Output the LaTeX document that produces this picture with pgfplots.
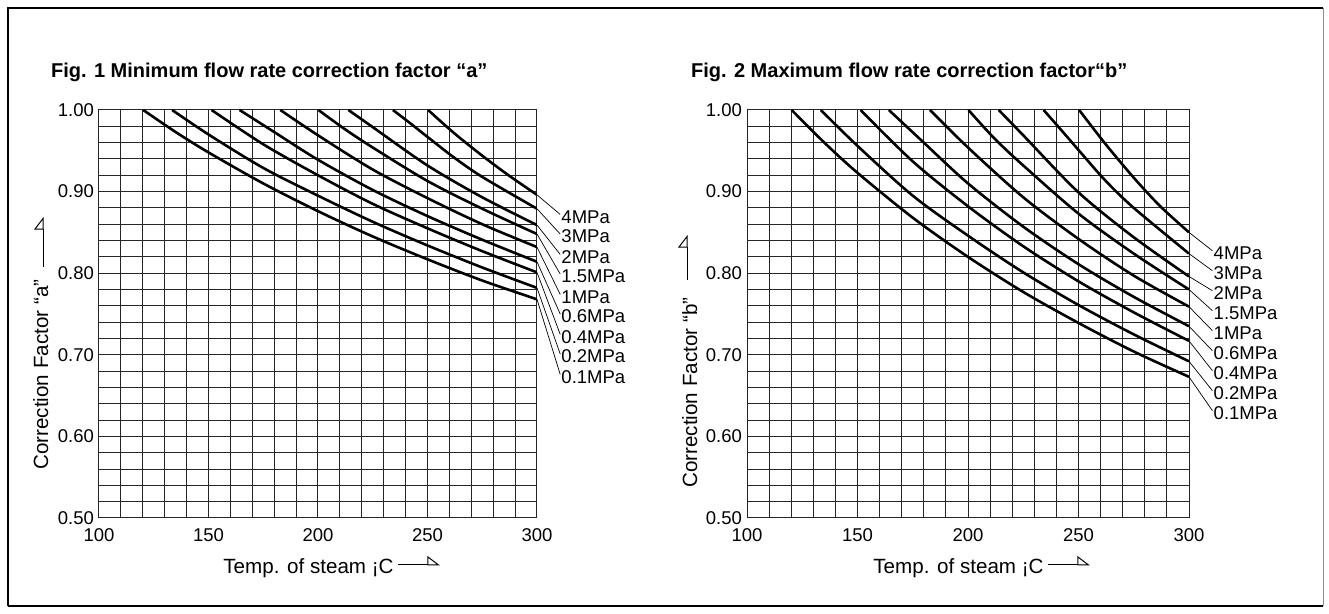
\documentclass[border=0pt]{standalone}
\usepackage{fontspec}
\setmainfont{Liberation Sans}
\usepackage{pgfplots}
\pgfplotsset{compat=1.18}
\usetikzlibrary{arrows.meta}

\pgfplotsset{
  factorchart/.style={
    scale only axis, height=204pt,
    anchor=south west,
    xmin=100, xmax=300, ymin=0.5, ymax=1.0,
    xtick={100,150,200,250,300},
    ytick={0.5,0.6,0.7,0.8,0.9,1.0},
    minor x tick num=4, minor y tick num=4,
    grid=both,
    grid style={black!85, line width=0.5pt},
    major grid style={black!85, line width=0.5pt},
    axis line style={black!85, line width=0.5pt},
    tick style={draw=none},
    /pgf/number format/assume math mode=true,
    ticklabel style={font=\fontsize{9.25}{11}\selectfont},
    yticklabel style={xshift=1pt, /pgf/number format/.cd, fixed, fixed zerofill, precision=2},
    xticklabel style={yshift=-2pt},
    clip mode=individual,
  },
  curve/.style={black, line width=1.3pt, smooth, mark=none},
}
\tikzset{
  leader/.style={black, line width=0.35pt},
  plabel/.style={anchor=west, inner sep=0pt, font=\fontsize{9.25}{11}\selectfont},
  bigarrow/.style={line width=0.5pt, -{Triangle[open,left,length=6pt,width=9pt]}},
}

\begin{document}
\begin{tikzpicture}
\useasboundingbox (0,0) rectangle (664.5pt,307pt);

% frame
\draw[black, line width=1pt] (4pt,4pt) -- (4pt,303pt) -- (661.5pt,303pt);
\draw[black!45, line width=0.5pt] (661.5pt,303pt) -- (661.5pt,4pt);
\draw[black, line width=0.6pt] (4pt,4pt) -- (661.5pt,4pt);

% titles
\node[anchor=base west, inner sep=0pt, font=\bfseries\fontsize{10}{12}\selectfont]
  at (25.35pt,268pt) {Fig. 1 Minimum flow rate correction factor “a”};
\node[anchor=base west, inner sep=0pt, font=\bfseries\fontsize{10}{12}\selectfont]
  at (345.35pt,268pt) {Fig. 2 Maximum flow rate correction factor“b”};

% ---------- Fig. 1 ----------
\begin{axis}[factorchart, width=219pt, at={(49.5pt,48pt)}]
\addplot[curve] coordinates {(120.2,1.000) (135,0.973) (150,0.948) (175,0.910) (200,0.876) (225,0.845) (250,0.817) (275,0.791) (300,0.768)};
\addplot[curve] coordinates {(133.4,1.000) (150,0.970) (175,0.929) (200,0.895) (225,0.863) (250,0.834) (275,0.807) (300,0.782)};
\addplot[curve] coordinates {(151.4,1.000) (175,0.958) (200,0.920) (225,0.885) (250,0.855) (275,0.827) (300,0.801)};
\addplot[curve] coordinates {(164.2,1.000) (180,0.973) (200,0.939) (225,0.902) (250,0.870) (275,0.841) (300,0.814)};
\addplot[curve] coordinates {(182.8,1.000) (200,0.969) (225,0.927) (250,0.892) (275,0.860) (300,0.832)};
\addplot[curve] coordinates {(200.2,1.000) (212,0.977) (225,0.954) (250,0.913) (275,0.879) (300,0.848)};
\addplot[curve] coordinates {(213.9,1.000) (225,0.979) (250,0.932) (275,0.893) (300,0.859)};
\addplot[curve] coordinates {(234.2,1.000) (242,0.984) (250,0.967) (262,0.942) (275,0.918) (300,0.879)};
\addplot[curve] coordinates {(250.3,1.000) (262,0.972) (275,0.944) (287,0.920) (300,0.896)};

\draw[leader] (axis cs:300,0.896) -- (axis cs:310.6,0.872);
\draw[leader] (axis cs:300,0.879) -- (axis cs:310.6,0.848);
\draw[leader] (axis cs:300,0.859) -- (axis cs:310.6,0.823);
\draw[leader] (axis cs:300,0.848) -- (axis cs:310.6,0.799);
\draw[leader] (axis cs:300,0.832) -- (axis cs:310.6,0.774);
\draw[leader] (axis cs:300,0.814) -- (axis cs:310.6,0.750);
\draw[leader] (axis cs:300,0.801) -- (axis cs:310.6,0.725);
\draw[leader] (axis cs:300,0.782) -- (axis cs:310.6,0.701);
\draw[leader] (axis cs:300,0.768) -- (axis cs:310.6,0.676);
\node[plabel] at (axis cs:311,0.869) {4MPa};
\node[plabel] at (axis cs:311,0.845) {3MPa};
\node[plabel] at (axis cs:311,0.820) {2MPa};
\node[plabel] at (axis cs:311,0.796) {1.5MPa};
\node[plabel] at (axis cs:311,0.771) {1MPa};
\node[plabel] at (axis cs:311,0.747) {0.6MPa};
\node[plabel] at (axis cs:311,0.722) {0.4MPa};
\node[plabel] at (axis cs:311,0.698) {0.2MPa};
\node[plabel] at (axis cs:311,0.673) {0.1MPa};
\end{axis}

% ---------- Fig. 2 ----------
\begin{axis}[factorchart, width=221pt, at={(373.5pt,48pt)}]
\addplot[curve] coordinates {(120.2,1.000) (135,0.960) (150,0.923) (175,0.868) (200,0.820) (225,0.777) (250,0.739) (275,0.704) (300,0.673)};
\addplot[curve] coordinates {(133.4,1.000) (150,0.956) (175,0.895) (200,0.846) (225,0.801) (250,0.761) (275,0.725) (300,0.692)};
\addplot[curve] coordinates {(151.4,1.000) (175,0.937) (200,0.882) (225,0.833) (250,0.790) (275,0.752) (300,0.717)};
\addplot[curve] coordinates {(164.2,1.000) (180,0.960) (200,0.910) (225,0.857) (250,0.811) (275,0.771) (300,0.735)};
\addplot[curve] coordinates {(182.8,1.000) (200,0.954) (225,0.893) (250,0.842) (275,0.797) (300,0.759)};
\addplot[curve] coordinates {(200.2,1.000) (212,0.965) (225,0.932) (250,0.873) (275,0.824) (300,0.780)};
\addplot[curve] coordinates {(213.9,1.000) (225,0.969) (250,0.899) (275,0.844) (300,0.796)};
\addplot[curve] coordinates {(234.2,1.000) (242,0.976) (250,0.951) (262,0.914) (275,0.880) (300,0.824)};
\addplot[curve] coordinates {(250.3,1.000) (262,0.959) (275,0.917) (287,0.882) (300,0.850)};

\draw[leader] (axis cs:300,0.850) -- (axis cs:310.6,0.8275);
\draw[leader] (axis cs:300,0.824) -- (axis cs:310.6,0.803);
\draw[leader] (axis cs:300,0.796) -- (axis cs:310.6,0.7785);
\draw[leader] (axis cs:300,0.780) -- (axis cs:310.6,0.754);
\draw[leader] (axis cs:300,0.759) -- (axis cs:310.6,0.7295);
\draw[leader] (axis cs:300,0.735) -- (axis cs:310.6,0.705);
\draw[leader] (axis cs:300,0.717) -- (axis cs:310.6,0.6805);
\draw[leader] (axis cs:300,0.692) -- (axis cs:310.6,0.656);
\draw[leader] (axis cs:300,0.673) -- (axis cs:310.6,0.6315);
\node[plabel] at (axis cs:311,0.8245) {4MPa};
\node[plabel] at (axis cs:311,0.800) {3MPa};
\node[plabel] at (axis cs:311,0.7755) {2MPa};
\node[plabel] at (axis cs:311,0.751) {1.5MPa};
\node[plabel] at (axis cs:311,0.7265) {1MPa};
\node[plabel] at (axis cs:311,0.702) {0.6MPa};
\node[plabel] at (axis cs:311,0.6775) {0.4MPa};
\node[plabel] at (axis cs:311,0.653) {0.2MPa};
\node[plabel] at (axis cs:311,0.6285) {0.1MPa};
\end{axis}

% axis titles with arrows
\node[anchor=base west, inner sep=0pt, rotate=90, font=\fontsize{10.3}{12}\selectfont]
  at (24pt,72pt) {Correction Factor “a”};
\draw[bigarrow] (21.5pt,173.5pt) -- (21.5pt,198.5pt);
\node[anchor=base west, inner sep=0pt, rotate=90, font=\fontsize{10.3}{12}\selectfont]
  at (348.5pt,63pt) {Correction Factor “b”};
\draw[bigarrow] (343.5pt,167pt) -- (343.5pt,189.5pt);

\node[anchor=base west, inner sep=0pt, font=\fontsize{10.3}{12}\selectfont]
  at (111.5pt,20pt) {Temp. of steam ¡C};
\draw[bigarrow] (199pt,24.5pt) -- (220pt,24.5pt);
\node[anchor=base west, inner sep=0pt, font=\fontsize{10.3}{12}\selectfont]
  at (436.5pt,20pt) {Temp. of steam ¡C};
\draw[bigarrow] (524pt,24.5pt) -- (545pt,24.5pt);
\end{tikzpicture}
\end{document}
